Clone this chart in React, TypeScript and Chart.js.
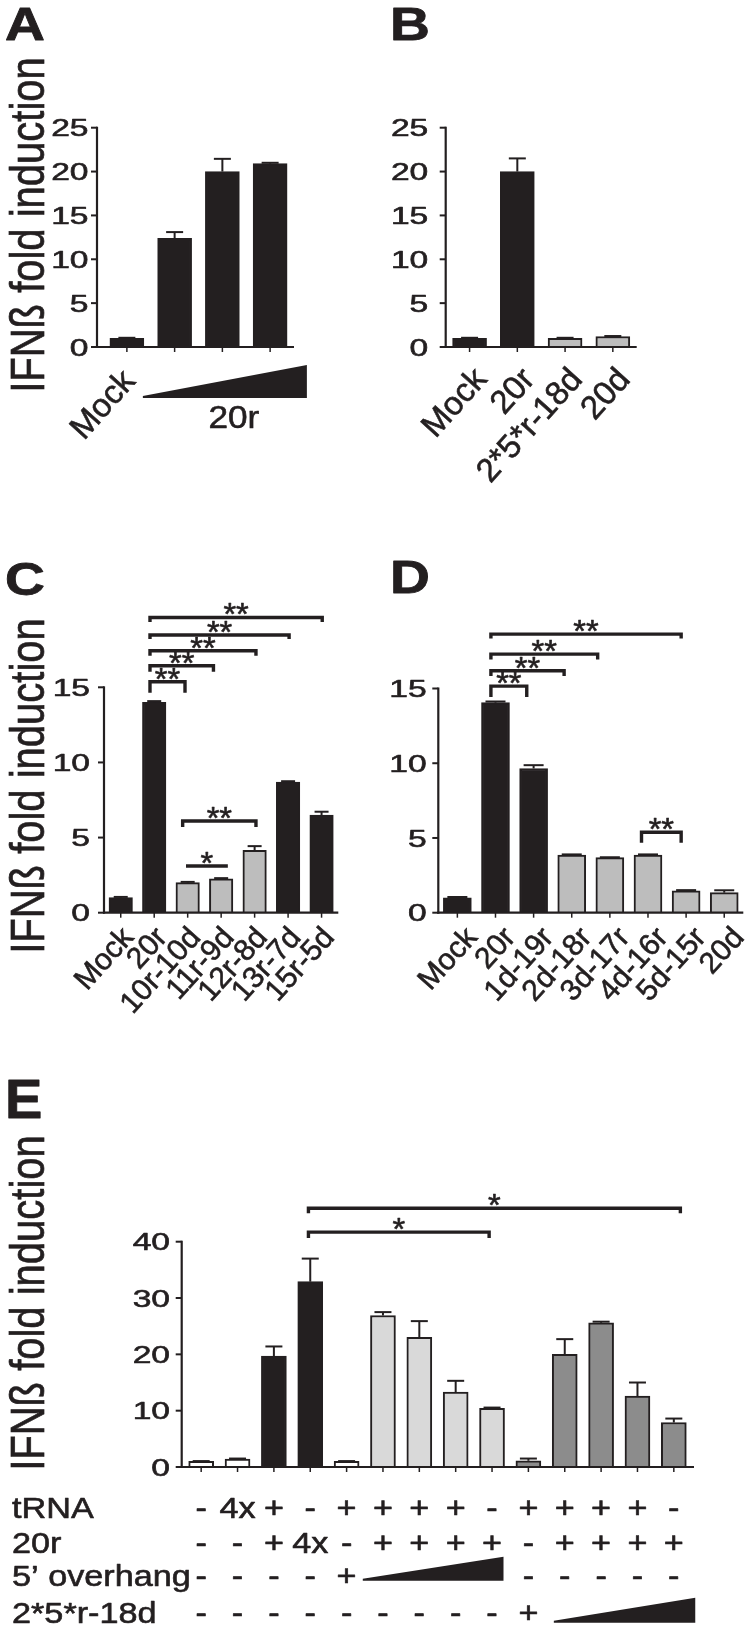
import React, { useEffect, useRef } from "react";
import { Chart, registerables } from "chart.js";

Chart.register(...registerables);

const FONT = "'Liberation Sans', Arial, Helvetica, sans-serif";
const INK = "#231f20";
const GREY = "#bdbdbd";
const LIGHT = "#d9d9d9";
const DARK = "#8c8c8c";
const WHITE = "#ffffff";
const Y_TITLE = "IFNß fold induction";

// ---------- Panel A ----------
const catsA = ["Mock", "20r dose 1", "20r dose 2", "20r dose 3"];
const xLabelsA = ["Mock", "", "", ""];
const valuesA = [1.0, 12.4, 20.0, 20.9];
const errorsA = [0.05, 0.7, 1.45, 0.1];
const colorsA = [INK, INK, INK, INK];
const yTicksA = [0, 5, 10, 15, 20, 25];
const wedgesA = [[0.335, 3.77, 51, 33]];
const textsA: [string, number, number, number, number][] = [["20r", 2.24, 81, 32, 1.1]];

// ---------- Panel B ----------
const catsB = ["Mock", "20r", "2*5*r-18d", "20d"];
const valuesB = [1.0, 20.0, 1.0, 1.2];
const errorsB = [0.05, 1.5, 0.05, 0.05];
const colorsB = [INK, INK, GREY, GREY];
const yTicksB = [0, 5, 10, 15, 20, 25];

// ---------- Panel C ----------
const catsC = ["Mock", "20r", "10r-10d", "11r-9d", "12r-8d", "13r-7d", "15r-5d"];
const valuesC = [1.0, 14.0, 2.0, 2.25, 4.15, 8.7, 6.5];
const errorsC = [0.05, 0.08, 0.05, 0.05, 0.28, 0.05, 0.22];
const colorsC = [INK, INK, GREY, GREY, GREY, INK, INK];
const yTicksC = [0, 5, 10, 15];
// [from, to, level, tick length, label]
const sigC: [number, number, number, number, string][] = [
  [0.874, 1.92, 15.37, 11, "**"],
  [0.874, 2.77, 16.43, 6, "**"],
  [0.874, 4.04, 17.43, 5, "**"],
  [0.874, 5.03, 18.48, 4, "**"],
  [0.874, 6.02, 19.65, 4.5, "**"],
  [1.85, 4.04, 6.1, 6, "**"],
  [1.95, 3.2, 3.11, 0, "*"],
];

// ---------- Panel D ----------
const catsD = ["Mock", "20r", "1d-19r", "2d-18r", "3d-17r", "4d-16r", "5d-15r", "20d"];
const valuesD = [1.0, 14.05, 9.65, 3.85, 3.68, 3.85, 1.47, 1.34];
const errorsD = [0.05, 0.08, 0.22, 0.05, 0.03, 0.05, 0.04, 0.16];
const colorsD = [INK, INK, INK, GREY, GREY, GREY, GREY, GREY];
const yTicksD = [0, 5, 10, 15];
const sigD: [number, number, number, number, string][] = [
  [0.88, 1.82, 15.16, 11, "**"],
  [0.88, 2.8, 16.19, 5.3, "**"],
  [0.88, 3.68, 17.3, 5.3, "**"],
  [0.88, 5.87, 18.64, 4.3, "**"],
  [4.83, 5.87, 5.38, 10.4, "**"],
];

// ---------- Panel E ----------
const catsE = ["c1", "c2", "c3", "c4", "c5", "c6", "c7", "c8", "c9", "c10", "c11", "c12", "c13", "c14"];
const valuesE = [1.0, 1.4, 19.7, 32.9, 1.0, 26.9, 23.0, 13.3, 10.4, 1.1, 20.0, 25.6, 12.6, 7.9];
const errorsE = [0.05, 0.1, 1.7, 4.1, 0.05, 0.6, 2.9, 2.0, 0.15, 0.4, 2.7, 0.2, 2.4, 0.7];
const colorsE = [WHITE, WHITE, INK, INK, WHITE, LIGHT, LIGHT, LIGHT, LIGHT, DARK, DARK, DARK, DARK, DARK];
const yTicksE = [0, 10, 20, 30, 40];
const sigE: [number, number, number, number, string][] = [
  [2.95, 7.92, 41.7, 6, "*"],
  [2.95, 13.18, 45.95, 5, "*"],
];
const rowLabelsE = ["tRNA", "20r", "5’ overhang", "2*5*r-18d"];
const rowTRNA = ["-", "4x", "+", "-", "+", "+", "+", "+", "-", "+", "+", "+", "+", "-"];
const row20r = ["-", "-", "+", "4x", "-", "+", "+", "+", "+", "-", "+", "+", "+", "+"];
const rowOverhang = ["-", "-", "-", "-", "+", "", "", "", "", "-", "-", "-", "-", "-"];
const row2518 = ["-", "-", "-", "-", "-", "-", "-", "-", "-", "+", "", "", "", ""];
const wedgesE = [
  [4.445, 8.315, 113.7, 24],
  [9.7, 13.59, 155.7, 25],
];

type Spec = {
  id: string;
  left: number; top: number; w: number; h: number;
  yW: number; padT: number; padR: number; xH: number;
  axisOff: number; xExt: number; yGap: number;
  barW: number; cap: number;
  xFont: number; rot: number; xPad: number; xOff: number; showX: boolean;
  cats: string[]; xLabels: string[]; values: number[]; errors: number[]; colors: string[]; yTicks: number[];
  brackets: [number, number, number, number, string][];
  wedges: number[][];
  texts: [string, number, number, number, number][];
  table?: { labels: string[]; rows: string[][]; dy: number[]; labelX: number };
  letter: { t: string; x: number; y: number; size: number; sx: number };
  title?: { x: number; cy: number };
};

function drawText(
  ctx: CanvasRenderingContext2D,
  text: string,
  x: number,
  y: number,
  font: string,
  sx: number,
  align: CanvasTextAlign,
  stroke = 0.6
) {
  ctx.save();
  ctx.font = font;
  ctx.textBaseline = "alphabetic";
  ctx.textAlign = align;
  ctx.fillStyle = INK;
  ctx.strokeStyle = INK;
  ctx.translate(x, y);
  ctx.scale(sx, 1);
  ctx.fillText(text, 0, 0);
  if (stroke > 0) {
    ctx.lineWidth = stroke;
    ctx.lineJoin = "round";
    ctx.strokeText(text, 0, 0);
  }
  ctx.restore();
}

function makeDecor(s: Spec) {
  return {
    id: "decor_" + s.id,
    afterDraw(chart: any) {
      const ctx: CanvasRenderingContext2D = chart.ctx;
      const area = chart.chartArea;
      const xs = chart.scales.x;
      const ys = chart.scales.y;
      const ax = area.left - s.axisOff;
      const by = area.bottom;
      const topY = ys.getPixelForValue(s.yTicks[s.yTicks.length - 1]);
      ctx.save();
      ctx.strokeStyle = INK;
      ctx.fillStyle = INK;
      ctx.lineCap = "butt";
      const seg = (x1: number, y1: number, x2: number, y2: number, w: number) => {
        ctx.lineWidth = w;
        ctx.beginPath();
        ctx.moveTo(x1, y1);
        ctx.lineTo(x2, y2);
        ctx.stroke();
      };
      // error bars
      s.values.forEach((v, i) => {
        const e = s.errors[i];
        const x = xs.getPixelForValue(i);
        const y1 = ys.getPixelForValue(v);
        const y2 = ys.getPixelForValue(v + e);
        seg(x, y1, x, y2, 2);
        seg(x - s.cap / 2, y2, x + s.cap / 2, y2, 2);
      });
      // axes
      seg(ax, topY - 1, ax, by + 1, 2.2);
      seg(ax - 1, by, area.right + s.xExt, by, 2.2);
      ys.ticks.forEach((t: any) => {
        const y = ys.getPixelForValue(t.value);
        seg(ax - 6, y, ax, y, 2);
        drawText(ctx, String(t.value), ax - s.yGap, y + 8.6, `24px ${FONT}`, 1.4, "right");
      });
      s.cats.forEach((_c, i) => {
        const x = xs.getPixelForValue(i);
        seg(x, by, x, by + 5, 1.5);
      });
      // significance brackets
      s.brackets.forEach(([f, t, lvl, tk, lab]) => {
        const x1 = xs.getPixelForValue(f);
        const x2 = xs.getPixelForValue(t);
        const y = ys.getPixelForValue(lvl);
        ctx.lineWidth = 3.4;
        ctx.lineJoin = "miter";
        ctx.beginPath();
        ctx.moveTo(x1, y + tk);
        ctx.lineTo(x1, y);
        ctx.lineTo(x2, y);
        ctx.lineTo(x2, y + tk);
        ctx.stroke();
        drawText(ctx, lab, (x1 + x2) / 2, y + 8, `31px ${FONT}`, 1.05, "center");
      });
      // wedges
      s.wedges.forEach(([f, t, dy, h]) => {
        const x1 = xs.getPixelForValue(f);
        const x2 = xs.getPixelForValue(t);
        const yb = by + dy;
        ctx.beginPath();
        ctx.moveTo(x1, yb);
        ctx.lineTo(x1, yb - 2);
        ctx.lineTo(x2, yb - h);
        ctx.lineTo(x2, yb);
        ctx.closePath();
        ctx.fill();
      });
      // extra texts
      s.texts.forEach(([txt, at, dy, size, sx]) => {
        drawText(ctx, txt, xs.getPixelForValue(at), by + dy, `${size}px ${FONT}`, sx, "center");
      });
      // table
      if (s.table) {
        const tb = s.table;
        tb.labels.forEach((lab, r) => {
          const y = by + tb.dy[r];
          drawText(ctx, lab, tb.labelX, y, `29px ${FONT}`, 1.18, "left");
          tb.rows[r].forEach((cell, i) => {
            if (!cell) return;
            drawText(ctx, cell, xs.getPixelForValue(i), y, `29px ${FONT}`, 1.18, "center");
          });
        });
      }
      // panel letter
      drawText(ctx, s.letter.t, s.letter.x, s.letter.y, `bold ${s.letter.size}px ${FONT}`, s.letter.sx, "left", 0.8);
      // y title
      if (s.title) {
        ctx.save();
        ctx.translate(s.title.x, s.title.cy);
        ctx.rotate(-Math.PI / 2);
        ctx.scale(1, 1.2);
        ctx.font = `40px ${FONT}`;
        ctx.textAlign = "center";
        ctx.textBaseline = "alphabetic";
        ctx.fillStyle = INK;
        ctx.strokeStyle = INK;
        ctx.lineWidth = 0.6;
        ctx.fillText(Y_TITLE, 0, 0);
        ctx.strokeText(Y_TITLE, 0, 0);
        ctx.restore();
      }
      ctx.restore();
    },
  };
}

function buildConfig(s: Spec): any {
  return {
    type: "bar",
    data: {
      labels: s.cats,
      datasets: [
        {
          data: s.values,
          backgroundColor: s.colors,
          borderColor: INK,
          borderWidth: 2,
          borderSkipped: "bottom",
          barThickness: s.barW,
        },
      ],
    },
    options: {
      responsive: false,
      maintainAspectRatio: false,
      animation: false,
      events: [],
      layout: { padding: { left: 0, top: s.padT, right: s.padR, bottom: 0 } },
      plugins: { legend: { display: false }, tooltip: { enabled: false }, title: { display: false } },
      scales: {
        x: {
          type: "category",
          offset: true,
          grid: { display: false, drawTicks: false },
          border: { display: false },
          ticks: {
            display: s.showX,
            autoSkip: false,
            maxRotation: s.rot,
            minRotation: s.rot,
            padding: s.xPad,
            labelOffset: s.xOff,
            color: INK,
            textStrokeColor: INK,
            textStrokeWidth: 0.6,
            font: { family: FONT, size: s.xFont },
            callback: (_v: any, i: number) => s.xLabels[i],
          },
          afterFit: (sc: any) => {
            sc.height = s.xH;
            sc.paddingLeft = 0;
            sc.paddingRight = 0;
          },
        },
        y: {
          type: "linear",
          min: 0,
          max: s.yTicks[s.yTicks.length - 1],
          grid: { display: false, drawTicks: false },
          border: { display: false },
          ticks: { display: false },
          afterBuildTicks: (sc: any) => {
            sc.ticks = s.yTicks.map((v) => ({ value: v }));
          },
          afterFit: (sc: any) => {
            sc.width = s.yW;
            sc.paddingTop = 0;
            sc.paddingBottom = 0;
          },
        },
      },
    },
    plugins: [makeDecor(s)],
  };
}

const specs: Spec[] = [
  {
    id: "A", left: 0, top: 0, w: 375, h: 480,
    yW: 103, padT: 127.7, padR: 81, xH: 133, axisOff: 6, xExt: 0, yGap: 8.5,
    barW: 34, cap: 17, xFont: 33, rot: 48, xPad: 16, xOff: 3, showX: true,
    cats: catsA, xLabels: xLabelsA, values: valuesA, errors: errorsA, colors: colorsA, yTicks: yTicksA,
    brackets: [], wedges: wedgesA, texts: textsA,
    letter: { t: "A", x: 5, y: 40, size: 46, sx: 1.2 }, title: { x: 44, cy: 225 },
  },
  {
    id: "B", left: 375, top: 0, w: 375, h: 500,
    yW: 70.7, padT: 127.7, padR: 113.3, xH: 153, axisOff: 0, xExt: 0, yGap: 17.4,
    barW: 34, cap: 17, xFont: 33, rot: 48, xPad: 14, xOff: 12, showX: true,
    cats: catsB, xLabels: catsB, values: valuesB, errors: errorsB, colors: colorsB, yTicks: yTicksB,
    brackets: [], wedges: [], texts: [],
    letter: { t: "B", x: 15, y: 40, size: 46, sx: 1.2 },
  },
  {
    id: "C", left: 0, top: 500, w: 375, h: 540,
    yW: 104, padT: 187.3, padR: 36.7, xH: 127.3, axisOff: 0, xExt: 0, yGap: 14,
    barW: 23.5, cap: 14, xFont: 30, rot: 48, xPad: 8, xOff: 8, showX: true,
    cats: catsC, xLabels: catsC, values: valuesC, errors: errorsC, colors: colorsC, yTicks: yTicksC,
    brackets: sigC, wedges: [], texts: [],
    letter: { t: "C", x: 5, y: 95, size: 46, sx: 1.2 }, title: { x: 44, cy: 286 },
  },
  {
    id: "D", left: 375, top: 500, w: 375, h: 540,
    yW: 63.3, padT: 188.5, padR: 6.7, xH: 127.3, axisOff: 0, xExt: 0, yGap: 11.6,
    barW: 28, cap: 20, xFont: 30, rot: 48, xPad: 8, xOff: 15, showX: true,
    cats: catsD, xLabels: catsD, values: valuesD, errors: errorsD, colors: colorsD, yTicks: yTicksD,
    brackets: sigD, wedges: [], texts: [],
    letter: { t: "D", x: 15, y: 93, size: 46, sx: 1.2 },
  },
  {
    id: "E", left: 0, top: 1050, w: 750, h: 586,
    yW: 183, padT: 191.7, padR: 58, xH: 169, axisOff: 1.3, xExt: 2, yGap: 11.7,
    barW: 25, cap: 17, xFont: 28, rot: 0, xPad: 0, xOff: 0, showX: false,
    cats: catsE, xLabels: catsE, values: valuesE, errors: errorsE, colors: colorsE, yTicks: yTicksE,
    brackets: sigE, wedges: wedgesE, texts: [],
    table: { labels: rowLabelsE, rows: [rowTRNA, row20r, rowOverhang, row2518], dy: [51.3, 85.7, 119, 155.7], labelX: 12 },
    letter: { t: "E", x: 5, y: 68, size: 56, sx: 1 }, title: { x: 44, cy: 253 },
  },
];

function Panel({ spec }: { spec: Spec }) {
  const ref = useRef<HTMLCanvasElement>(null);
  useEffect(() => {
    const chart = new Chart(ref.current as HTMLCanvasElement, buildConfig(spec));
    return () => chart.destroy();
  }, [spec]);
  return (
    <canvas
      ref={ref}
      width={spec.w}
      height={spec.h}
      style={{ position: "absolute", left: spec.left, top: spec.top, width: spec.w, height: spec.h }}
    />
  );
}

export default function App() {
  return (
    <div style={{ position: "absolute", left: 0, top: 0, width: 750, height: 1636, overflow: "hidden", background: "#fff" }}>
      {specs.map((s) => (
        <Panel key={s.id} spec={s} />
      ))}
    </div>
  );
}
